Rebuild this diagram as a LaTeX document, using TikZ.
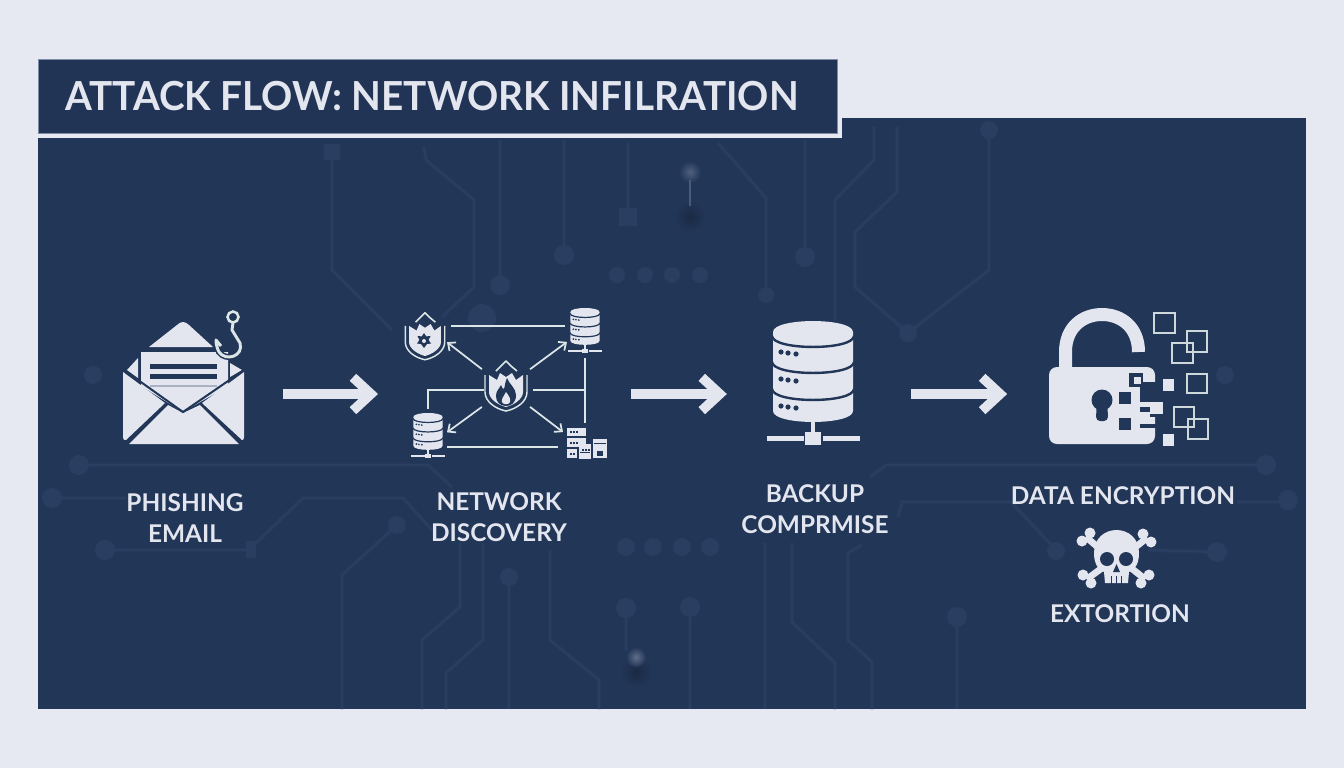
\documentclass[tikz,border=0pt]{standalone}
\usepackage{fontspec}
\setmainfont{Lato}
\newfontfamily\titlefont[FakeStretch=.967]{Lato}
\usetikzlibrary{arrows.meta,calc}
\definecolor{page}{HTML}{E6E9F2}
\definecolor{panel}{HTML}{223658}
\definecolor{titlebg}{HTML}{223455}
\definecolor{trace}{HTML}{2A3E62}
\definecolor{ink}{HTML}{E3E6EF}
\definecolor{netline}{HTML}{DCE6E6}
\definecolor{edge}{HTML}{7E8CA6}
\tikzset{
  x=0.75pt,y=-0.75pt,
  tr/.style={draw=trace,line width=1.7pt,line join=round,preaction={draw=trace,opacity=.45,line width=3.2pt}},
  pad/.style={fill=trace},
  iconbox/.style={inner sep=0pt,outer sep=0pt},
  label/.style={text=ink,font=\bfseries\fontsize{18.3}{23.25}\selectfont,align=center,inner sep=0pt},
  flowarrow/.style={draw=ink,line width=7.4pt,-{Straight Barb[length=13.5pt,width=25pt,line width=7.2pt]}},
  netplain/.style={draw=netline,line width=1.3pt},
  netarrow/.style={draw=netline,line width=1.3pt,-{Straight Barb[length=4.5pt,width=8pt,line width=1.3pt]}},
  outsq/.style={draw=netline!92!panel,line width=2pt},
  bone/.style={draw=ink,line width=5pt},
  pics/db/.style={code={
    \fill[ink] (-40,0) .. controls (-40,-14.6) and (40,-14.6) .. (40,0) -- (40,79) .. controls (40,93.6) and (-40,93.6) .. (-40,79) -- cycle;
    \foreach \c in {4,30,57}{
      \draw[panel,line width=#1] (-41,\c) .. controls (-40,{\c+14.6}) and (40,{\c+14.6}) .. (41,\c);
    }
    \foreach \c in {20,47,74}{
      \fill[panel] (-32,\c) circle (2.6);
      \fill[panel] (-25,\c+1) circle (2.6);
      \fill[panel] (-17,\c+2) circle (2.6);
    }
    \fill[ink] (-2,88) rectangle (2,100);
    \fill[ink] (-8,100) rectangle (8,113);
    \fill[ink] (-46,104) rectangle (-9,109);
    \fill[ink] (10,104) rectangle (47,109);
  }},
  pics/shieldicon/.style={code={
    \draw[netline,line width=1.1pt] (-21,-15) -- (-21,2) .. controls (-21,12) and (-10,19) .. (0,21) .. controls (10,19) and (21,12) .. (21,2) -- (21,-15);
    \fill[ink] (-17,-15) -- (-9,-10) -- (-6,-17) -- (0,-13) -- (6,-17) -- (10,-10) -- (17,-15) -- (17,2) .. controls (17,9) and (8,15) .. (0,17) .. controls (-8,15) and (-17,9) .. (-17,2) -- cycle;
    \draw[netline,line width=1.2pt,line join=round] (-10,-19) -- (-5,-24) -- (0,-29) -- (5,-24) -- (11,-19);
  }}
}
\begin{document}
\begin{tikzpicture}
\useasboundingbox (0,0) rectangle (1344,768);
\fill[page] (0,0) rectangle (1344,768);
\fill[panel] (38,118) rectangle (1306,709);
% circuit traces
\draw[tr] (332,152) -- (332,270) -- (392,330);
\fill[pad] (324,144) rectangle (340,160);
\draw[tr] (424,147) -- (426,160) -- (474,200) -- (474,287) -- (442,317);
\draw[tr] (500,140) -- (500,283); \fill[pad] (500,285) circle (10);
\draw[tr] (564,140) -- (564,253); \fill[pad] (564,255) circle (10);
\draw[tr] (628,143) -- (628,217); \fill[pad] (619,208) rectangle (637,226);
\draw[tr] (718,143) -- (766,198) -- (766,293); \fill[pad] (766,295) circle (8);
\draw[tr] (805,140) -- (805,255); \fill[pad] (805,257) circle (10);
\draw[tr] (874,127) -- (874,160) -- (835,200) -- (835,320);
\draw[tr] (897,127) -- (897,192) -- (855,232) -- (855,287) -- (908,333) -- (989,270) -- (989,130);
\fill[pad] (908,333) circle (9); \fill[pad] (989,130) circle (9);
\foreach \p in {617,645,672,700}{\fill[pad] (\p,275) circle (8);}
\fill[pad] (482,318) circle (14);
\draw[tr] (79,465) -- (428,465) -- (452,487);
\fill[pad] (79,465) circle (10);
\draw[tr] (52,498) -- (126,498);
\fill[pad] (52,498) circle (10);
\draw[tr] (256,543) -- (303,498) -- (403,498) -- (432,530);
\draw[tr] (105,550) -- (256,550);
\fill[pad] (105,550) circle (10); \fill[pad] (246,541) rectangle (256,558);
\draw[tr] (397,525) -- (342,575) -- (342,709); \fill[pad] (397,525) circle (9);
\draw[tr] (460,543) -- (460,607) -- (422,640) -- (422,709);
\draw[tr] (483,543) -- (483,640) -- (446,673) -- (446,709);
\draw[tr] (509,577) -- (509,709); \fill[pad] (509,577) circle (9);
\draw[tr] (550,550) -- (550,640) -- (599,680) -- (599,709);
\foreach \p in {626,653,682,710}{\fill[pad] (\p,547) circle (9);}
\draw[tr] (765,543) -- (765,709);
\draw[tr] (792,543) -- (792,622) -- (835,663) -- (835,709);
\draw[tr] (862,545) -- (848,553) -- (848,640) -- (872,662) -- (872,709);
\draw[tr] (690,605) -- (690,709); \fill[pad] (690,607) circle (10);
\draw[tr] (957,615) -- (957,709); \fill[pad] (957,617) circle (10);
\draw[tr] (870,477) -- (886,465) -- (1268,465); \fill[pad] (1266,465) circle (10);
\draw[tr] (898,517) -- (902,502) -- (1011,502) -- (1056,550); \fill[pad] (1056,551) circle (9);
\draw[tr] (1237,502) -- (1288,502); \fill[pad] (1288,500) circle (10);
\draw[tr] (1148,550) -- (1217,552); \fill[pad] (1217,552) circle (10);
\draw[tr] (626,608) -- (626,650); \fill[pad] (626,608) circle (10);
\fill[pad] (93,375) circle (9); \fill[pad] (1225,375) circle (9);
% glows
\shade[inner color=black!22!panel,outer color=panel] (690,217) circle (16);
\shade[inner color=black!22!panel,outer color=panel] (636,672) circle (16);
\shade[inner color=trace!82!white,outer color=panel] (690,172) circle (11);
\shade[inner color=trace!75!white,outer color=panel] (636,657) circle (10);
\draw[trace!85!white,line width=2.2pt] (690,180) -- (690,206);
% title
\fill[page] (38,118) rectangle (842,138);
\node[fill=titlebg,draw=edge,line width=.5pt,minimum width=599.5pt,minimum height=55.5pt,inner sep=0pt,anchor=north west] (titlebox) at (37.5,58.5) {};
\node[text=ink,font=\titlefont\bfseries\fontsize{30}{36}\selectfont,anchor=west,inner sep=0pt] (title) at (65,96) {ATTACK FLOW: NETWORK INFILRATION};
% main icon nodes
\node[iconbox,minimum width=91.5pt,minimum height=100pt] (email) at (184,394) {};
\node[iconbox,minimum width=153pt,minimum height=130pt] (net) at (505,394) {};
\node[iconbox,minimum width=70pt,minimum height=100pt] (backup) at (813.5,394) {};
\node[iconbox,minimum width=119pt,minimum height=100pt] (lock) at (1128.5,394) {};
\draw[flowarrow,shorten <=28.5pt,shorten >=18.75pt] (email.east) -- (net.west);
\draw[flowarrow,shorten <=18pt,shorten >=30pt] (net.east) -- (backup.west);
\draw[flowarrow,shorten <=38.25pt,shorten >=31.5pt] (backup.east) -- (lock.west);
% email icon
\fill[ink] (149,347) -- (177,325) .. controls (181,321) and (185,321) .. (189,325) -- (213,347) -- cycle;
\fill[ink] (127,370) -- (138,358) -- (138,378) -- cycle;
\fill[ink] (230,363) -- (242,370) -- (230,377) -- cycle;
\fill[ink] (141,352) -- (228,352) -- (228,386) -- (183,412) -- (141,386) -- cycle;
\fill[panel] (150,364) rectangle (217,368.5);
\fill[panel] (150,374) rectangle (217,378.5);
\fill[panel!30!ink] (150,385) rectangle (217,387);
\fill[ink] (123,372) -- (165,403) -- (126,440) .. controls (124,441) and (123,439) .. (123,437) -- cycle;
\fill[ink] (244,372) -- (202,403) -- (242,440) .. controls (243,441) and (244,439) .. (244,437) -- cycle;
\fill[ink] (129,444) -- (168,405) -- (183,413) -- (200,405) -- (239,444) -- cycle;
\draw[panel,line width=1.5pt] (124,370) -- (183,412) -- (244,370);
% hook
\draw[panel,line width=4.5pt] (232,330) -- (240,343) .. controls (244,356) and (226,362) .. (219,352) -- (216,340);
\draw[netline,line width=1.9pt] (233,317) circle (5.5);
\draw[netline,line width=2.2pt,line join=round] (233,323) -- (232,330) -- (240,343) .. controls (244,356) and (226,362) .. (219,352) .. controls (217,348) and (216,344) .. (216,340) -- (221,346);
% network icon
\node[iconbox,minimum width=34.5pt,minimum height=30pt] (netC) at (506,390) {};
\node[iconbox,minimum width=33pt,minimum height=45pt] (netTL) at (425,330) {};
\node[iconbox,minimum width=27pt,minimum height=36.75pt] (netTR) at (585,333.5) {};
\node[iconbox,minimum width=28.5pt,minimum height=39pt] (netBL) at (428,435) {};
\node[iconbox,minimum width=33pt,minimum height=26.25pt] (netBR) at (585,440.5) {};
\pic at (506,390) {shieldicon};
\pic[scale=.94] at (425,340) {shieldicon};
% flame
\fill[panel] (507,378) .. controls (509,384) and (516,388) .. (516,395) .. controls (516,403) and (511,406) .. (506,406) .. controls (500,406) and (496,402) .. (496,396) .. controls (496,391) and (499,389) .. (501,385) .. controls (502,388) and (503,389) .. (504,389) .. controls (505,386) and (505,382) .. (507,378) -- cycle;
\fill[ink] (506,392) .. controls (509,396) and (511,399) .. (510,402) .. controls (509,405) and (503,405) .. (502,402) .. controls (501,399) and (504,396) .. (506,392) -- cycle;
% gear star
\fill[panel] (424,333) -- (426.2,336.4) -- (430.5,336) -- (428.6,340) -- (431,343.5) -- (427,344) -- (424,348) -- (421,344) -- (417,343.5) -- (419.4,340) -- (417.5,336) -- (421.8,336.4) -- cycle;
\fill[ink] (424,341) circle (2);
\pic[scale=.365] at (585,312) {db=.9pt};
\pic[scale=.365] at (428,417) {db=.9pt};
% server-rack icon
\fill[ink] (567,428) rectangle (586,436);
\fill[ink] (567,438) rectangle (586,447);
\fill[ink] (567,449) rectangle (577,458);
\fill[ink] (579,444) rectangle (591,459);
\fill[ink] (593,439) rectangle (607,458);
\foreach \p/\q in {570/431,573/431,576/431,570/442,573/442,576/442,570/453,573/453,582/449,585/449,588/449}{\fill[panel] (\p,\q) rectangle +(2,2);}
\fill[panel] (594,443) rectangle (606,444);
\fill[panel] (597,451) rectangle (603,456);
\fill[panel] (580,452) rectangle (590,453);
% network connectors
\draw[netplain,shorten <=3pt,shorten >=1.5pt] (netTL.10) -- (netTL.10 -| netTR.west);
\draw[netarrow,shorten <=1pt] (netC.north west) -- (netTL.331);
\draw[netarrow,shorten <=1pt] (netC.north east) -- (netTR.205);
\draw[netarrow,shorten <=1pt] (netC.215) -- (netBL.8);
\draw[netarrow,shorten <=1pt] (netC.325) -- (netBR.159);
\draw[netplain,shorten <=-1pt] (netC.west) -| (netBL.north);
\draw[netplain,shorten <=3pt] (netC.east) -- (netC.east -| netTR.south);
\draw[netplain] (netTR.south) -- (netBR.north);
\draw[netplain,shorten >=3.75pt] (netBL.328) -- (netBL.328 -| netBR.west);
% backup database
\pic at (813,332) {db=1.8pt};
% lock
\draw[ink,line width=9.75pt,line cap=butt] (1065.5,372) -- (1065.5,352) .. controls (1065.5,327) and (1083,314.5) .. (1102,314.5) .. controls (1121,314.5) and (1138.5,327) .. (1138.5,352);
\fill[ink,rounded corners=6pt] (1049,367) rectangle (1155,444);
\fill[panel] (1119,392) rectangle (1131,404);
\fill[panel] (1119,418) rectangle (1131,430);
\fill[panel] (1102,400) circle (10.5);
\fill[panel,rounded corners=3pt] (1096.5,405) -- (1107.5,405) -- (1108,421) -- (1096,421) -- cycle;
\fill[panel] (1140,382) rectangle (1156,402);
\fill[panel] (1140,424) rectangle (1156,428);
\fill[panel] (1129,373) rectangle (1143,387);
\fill[ink] (1134,377) rectangle (1141,384);
\fill[ink] (1145,402) rectangle (1163,414);
\fill[panel] (1140,407) rectangle (1150,412);
\fill[ink] (1143,412) rectangle (1155,424);
\fill[panel] (1150,414) rectangle (1158,417);
\fill[ink] (1163,379) rectangle (1174,391);
\fill[ink] (1163,434) rectangle (1174,446);
\draw[outsq] (1154,313) rectangle (1175,333);
\draw[outsq] (1187,331) rectangle (1207,352);
\draw[outsq] (1172,343) rectangle (1193,363);
\draw[outsq] (1187,374) rectangle (1207,393);
\draw[outsq] (1174,407) rectangle (1194,427);
\draw[outsq] (1188,419) rectangle (1208,439);
% skull
\foreach \ax/\ay/\bx/\by/\ox/\oy in {1086/537/1100/549/-4/4,1147/538/1133/549/4/4,1087/579/1102/568/4/4,1145/579/1131/568/4/-4}{
  \draw[bone] (\ax,\ay) -- (\bx,\by);
  \fill[ink] (\ax+\ox,\ay+\oy) circle (5.5);
  \fill[ink] (\ax-\ox,\ay-\oy) circle (5.5);
}
\fill[ink] (1094,553) .. controls (1094,538) and (1105,530) .. (1116.5,530) .. controls (1128,530) and (1139,538) .. (1139,553) .. controls (1139,565) and (1134,570) .. (1129,572) -- (1128,583) -- (1105,583) -- (1104,572) .. controls (1099,570) and (1094,565) .. (1094,553) -- cycle;
\fill[panel] (1107,559) circle (7);
\fill[panel] (1126,559) circle (7);
\fill[panel] (1116.5,564) -- (1120,572) -- (1113,572) -- cycle;
\foreach \p in {1111,1116,1121}{\fill[panel] (\p,576) rectangle +(1.2,7.5);}
% labels
\node[label] (lab1) at (185,518) {PHISHING\\EMAIL};
\node[label] (lab2) at (499,517) {NETWORK\\DISCOVERY};
\node[label] (lab3) at (815,509) {BACKUP\\COMPRMISE};
\node[label] (lab4) at (1123,496) {DATA ENCRYPTION};
\node[label] (lab5) at (1120,614) {EXTORTION};
\end{tikzpicture}
\end{document}
